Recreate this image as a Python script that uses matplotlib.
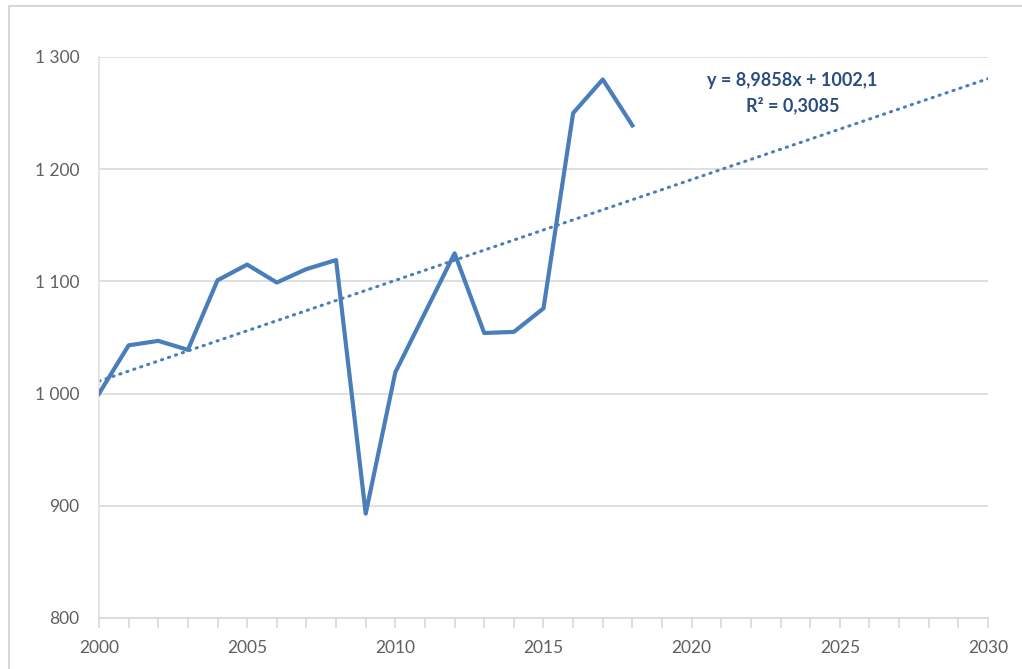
import matplotlib.pyplot as plt
from matplotlib.patches import Rectangle
from matplotlib.ticker import FuncFormatter, MultipleLocator

years = list(range(2000, 2019))
values = [1000, 1043, 1047, 1039, 1101, 1115, 1099, 1111, 1119, 893,
          1019, 1072, 1125, 1054, 1055, 1076, 1250, 1280, 1239]

# linear trend (x = 1 for the first year)
slope = 8.9858
intercept = 1002.1
r2 = 0.3085
trend_years = [2000, 2030]

line_col = '#4a7ebb'
grid_col = '#d9d9d9'
text_col = '#606060'

plt.rcParams['font.family'] = ['Lato', 'DejaVu Sans']

fig = plt.figure(figsize=(10.22, 6.69), dpi=100)
ax = fig.add_axes([99 / 1022, 1 - 618 / 669, 889 / 1022, 561 / 669])

# chart frame
fig.patches.append(Rectangle((9 / 1022, -0.1), 1.2, 1 - 6 / 669 + 0.1,
                             transform=fig.transFigure, fill=False,
                             edgecolor='#d0d0d0', linewidth=1.2))

trend = [intercept + slope * (y - years[0] + 1) for y in trend_years]
ax.plot(trend_years, trend, linestyle=(0, (0.4, 2.0)), color=line_col,
        linewidth=2.2, dash_capstyle='round', zorder=2)
ax.plot(years, values, color=line_col, linewidth=3.0,
        solid_joinstyle='round', zorder=3)

ax.set_xlim(2000, 2030)
ax.set_ylim(800, 1300)
ax.xaxis.set_major_locator(MultipleLocator(5))
ax.xaxis.set_minor_locator(MultipleLocator(1))
ax.yaxis.set_major_locator(MultipleLocator(100))
ax.yaxis.set_major_formatter(FuncFormatter(lambda v, p: f'{int(v):,}'.replace(',', ' ')))

ax.grid(axis='y', color=grid_col, linewidth=1.2)
ax.set_axisbelow(True)
for s in ['top', 'right']:
    ax.spines[s].set_visible(False)
ax.spines['left'].set_color('#e6e2d8')
ax.spines['bottom'].set_color(grid_col)
ax.spines['left'].set_linewidth(1.2)
ax.spines['bottom'].set_linewidth(1.2)

ax.tick_params(axis='y', length=0, pad=14, labelsize=12.5, labelcolor=text_col)
ax.tick_params(axis='x', which='both', direction='out', length=7,
               color=grid_col, width=1.2, pad=9, labelsize=12.5, labelcolor=text_col)

ax.text(2023.4, 1279, f'y = {slope:.4f}x + {intercept:.1f}'.replace('.', ','),
        ha='center', va='center', fontsize=13, fontweight='bold', color='#2a4d7f')
ax.text(2023.4, 1257, f'R² = {r2:.4f}'.replace('.', ','),
        ha='center', va='center', fontsize=13, fontweight='bold', color='#2a4d7f')

fig.savefig('out.png', dpi=100)
